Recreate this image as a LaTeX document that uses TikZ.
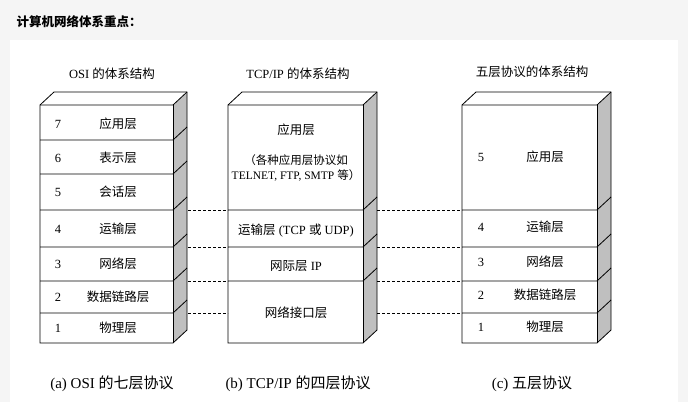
\documentclass[tikz,border=0pt]{standalone}
\usepackage{fontspec}
\setmainfont{Liberation Serif}
\newfontfamily\cjk{Noto Sans CJK SC}
\begin{document}
\begin{tikzpicture}[x=1pt,y=-1pt,
 lbl/.style={font=\fontsize{12.5}{15}\selectfont},
 cap2/.style={font=\fontsize{15}{17}\selectfont},
 dsh/.style={densely dashed,line width=0.5pt}]
\useasboundingbox (0,0) rectangle (688,402);
\fill[gray!8] (0,0) rectangle (688,402);
\fill[white] (10,40) rectangle (678,402);
\node[anchor=west,font=\cjk\bfseries\fontsize{12.5}{14}\selectfont] (title) at (13,22) {计算机网络体系重点：};
\def\dx{14}\def\dy{13}
\newcommand\mybox[4]{%
 \fill[gray!50] (#2,105) -- (#2+\dx,105-\dy) -- (#2+\dx,343-\dy) -- (#2,343) -- cycle;
 \draw[line width=0.8pt] (#1,105) -- (#1+\dx,105-\dy) -- (#2+\dx,105-\dy) -- (#2+\dx,343-\dy) -- (#2,343) -- (#1,343) -- cycle;
 \draw[line width=0.8pt] (#1,105) -- (#2,105) -- (#2+\dx,105-\dy);
 \draw[line width=0.8pt] (#2,105) -- (#2,343);
 \foreach \yy in {#3} {\draw[line width=0.8pt] (#1,\yy) -- (#2,\yy) -- (#2+\dx,\yy-\dy);}
}
\mybox{40}{173}{140,174,210,247,281,313}{a}
\mybox{228}{363}{210,247,281}{b}
\mybox{462}{597}{210,247,281,313}{c}
\foreach \yy in {210,247,281,313}{
 \draw[dsh] (188,\yy) -- (228,\yy);
 \draw[dsh] (377,\yy) -- (462,\yy);}
\node[lbl] (ha) at (112,74) {OSI {\cjk 的体系结构}};
\node[lbl] (hb) at (298,74) {TCP/IP {\cjk 的体系结构}};
\node[lbl] (hc) at (532,72) {\cjk 五层协议的体系结构};
\foreach \n/\t/\yy in {7/应用层/124,6/表示层/158,5/会话层/192,4/运输层/229,3/网络层/264,2/数据链路层/297,1/物理层/328}{
 \node[lbl] at (58,\yy) {\n};
 \node[lbl,font=\cjk\fontsize{12.5}{15}\selectfont] at (118,\yy) {\t};}
\node[lbl,font=\cjk\fontsize{12.5}{15}\selectfont] (b1) at (296,130) {应用层};
\node[align=center,font=\fontsize{11.5}{15}\selectfont] (b2) at (296,168) {{\cjk （各种应用层协议如}\\TELNET, FTP, SMTP {\cjk 等）}};
\node[lbl] (b3) at (296,231) {{\cjk 运输层} (TCP {\cjk 或} UDP)};
\node[lbl] (b4) at (296,266) {{\cjk 网际层} IP};
\node[lbl,font=\cjk\fontsize{12.5}{15}\selectfont] (b5) at (296,313) {网络接口层};
\foreach \n/\t/\yy in {5/应用层/157,4/运输层/227,3/网络层/262,2/数据链路层/295,1/物理层/327}{
 \node[lbl] at (481,\yy) {\n};
 \node[lbl,font=\cjk\fontsize{12.5}{15}\selectfont] at (545,\yy) {\t};}
\node[cap2] (ca) at (112,384) {(a) OSI {\cjk 的七层协议}};
\node[cap2] (cb) at (298,384) {(b) TCP/IP {\cjk 的四层协议}};
\node[cap2] (cc) at (532,384) {(c) {\cjk 五层协议}};
\end{tikzpicture}
\end{document}
